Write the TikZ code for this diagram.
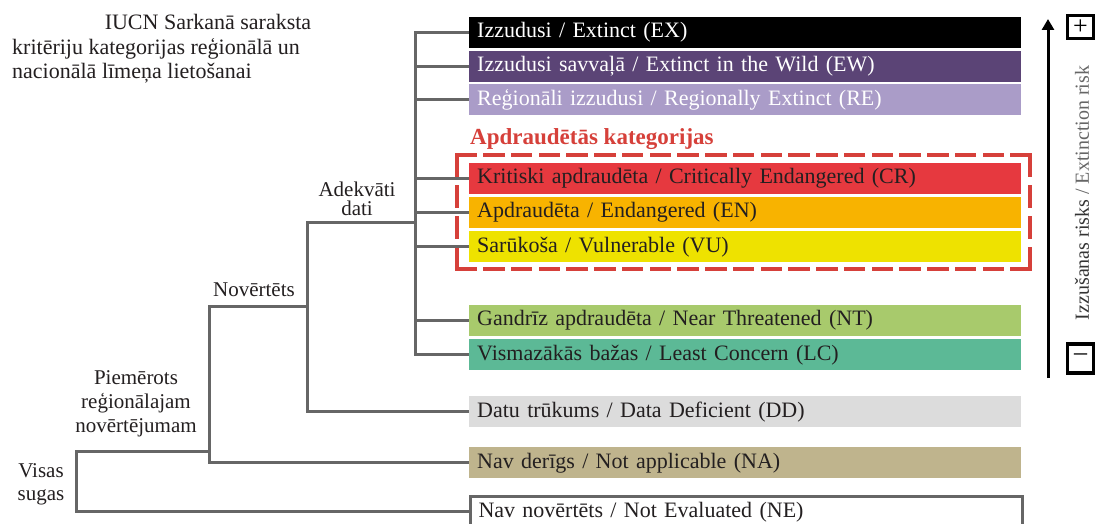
\documentclass[tikz,border=0pt]{standalone}
\usepackage{fontspec}
\setmainfont{Liberation Serif}
\usetikzlibrary{arrows.meta}
\definecolor{cEX}{HTML}{000000}
\definecolor{cEW}{HTML}{5B4476}
\definecolor{cRE}{HTML}{AA9CC8}
\definecolor{cCR}{HTML}{E6393F}
\definecolor{cEN}{HTML}{F8B300}
\definecolor{cVU}{HTML}{EEE200}
\definecolor{cNT}{HTML}{A8CA6C}
\definecolor{cLC}{HTML}{5CB996}
\definecolor{cDD}{HTML}{DCDCDC}
\definecolor{cNA}{HTML}{BFB48D}
\definecolor{cLine}{HTML}{666666}
\definecolor{cRed}{HTML}{D6403A}
\definecolor{cTxt}{HTML}{231F20}
\definecolor{cRiskA}{HTML}{333333}
\definecolor{cRiskB}{HTML}{666666}
\begin{document}
\begin{tikzpicture}[x=1pt,y=-1pt,
  cat/.style={anchor=west, minimum width=552pt, minimum height=31pt, text width=536pt,
    inner xsep=8pt, inner ysep=0pt, align=left, text height=16pt, text depth=5pt,
    font=\fontsize{22}{24}\selectfont, text=cTxt},
  wtxt/.style={text=white},
  tree/.style={draw=cLine, line width=3pt, line join=miter},
  lbl/.style={font=\fontsize{21}{24}\selectfont, text=cTxt, inner sep=0pt, align=center},
  ttl/.style={font=\fontsize{22}{24}\selectfont, text=cTxt, inner sep=0pt},
  pm/.style={draw=black, line width=3.5pt, minimum width=26pt, minimum height=23pt,
    inner sep=0pt, font=\fontsize{26}{26}\selectfont},
  dsh/.style={draw=cRed, line width=3.5pt, line cap=rect},
]
\useasboundingbox (0,0) rectangle (1096,524);
\fill[white] (0,0) rectangle (1096,524);

% title
\node[ttl, anchor=base] (t1) at (208,30) {IUCN Sarkanā saraksta};
\node[ttl, anchor=base west] (t2) at (12,55) {kritēriju kategorijas reģionālā un};
\node[ttl, anchor=base west] (t3) at (12,79) {nacionālā līmeņa lietošanai};

% category boxes
\node[cat, fill=cEX, wtxt] (ex) at (469,32.5) {Izzudusi / Extinct (EX)};
\node[cat, fill=cEW, wtxt] (ew) at (469,66.5) {Izzudusi savvaļā / Extinct in the Wild (EW)};
\node[cat, fill=cRE, wtxt] (re) at (469,100) {Reģionāli izzudusi / Regionally Extinct (RE)};
\node[cat, fill=cCR] (cr) at (469,178.5) {Kritiski apdraudēta / Critically Endangered (CR)};
\node[cat, fill=cEN] (en) at (469,212.5) {Apdraudēta / Endangered (EN)};
\node[cat, fill=cVU] (vu) at (469,246.5) {Sarūkoša / Vulnerable (VU)};
\node[cat, fill=cNT] (nt) at (469,320) {Gandrīz apdraudēta / Near Threatened (NT)};
\node[cat, fill=cLC] (lc) at (469,354.5) {Vismazākās bažas / Least Concern (LC)};
\node[cat, fill=cDD] (dd) at (469,411.5) {Datu trūkums / Data Deficient (DD)};
\node[cat, fill=cNA] (na) at (469,462.5) {Nav derīgs / Not applicable (NA)};
\node[cat, fill=white, draw=cLine, line width=3pt] (ne) at (469,511.5) {Nav novērtēts / Not Evaluated (NE)};

% threatened heading and dashed frame
\node[font=\bfseries\fontsize{23}{24}\selectfont, text=cRed, inner sep=0pt, anchor=base west] (thr) at (470,145) {Apdraudētās kategorijas};
\coordinate (dA) at (457,155);
\coordinate (dB) at (1030,269);
\draw[dsh, dash pattern=on 18pt off 9.75pt] (dA) -- (dA -| dB);
\draw[dsh, dash pattern=on 18pt off 9.75pt] (dA |- dB) -- (dB);
\draw[dsh, dash pattern=on 20pt off 11.33pt] (dA) -- (dA |- dB);
\draw[dsh, dash pattern=on 20pt off 11.33pt] (dA -| dB) -- (dB);

% tree
\coordinate (tA) at (415,223);
\coordinate (nA) at (307,223);
\coordinate (nB) at (307,306);
\coordinate (pA) at (209,306);
\coordinate (pB) at (209,451);
\coordinate (vA) at (76,451);
\draw[tree] (ex.west) -- (tA |- ex.west) -- (tA |- lc.west) -- (lc.west);
\draw[tree] (tA |- ew.west) -- (ew.west);
\draw[tree] (tA |- re.west) -- (re.west);
\draw[tree] (tA |- cr.west) -- (cr.west);
\draw[tree] (tA |- en.west) -- (en.west);
\draw[tree] (tA |- vu.west) -- (vu.west);
\draw[tree] (tA |- nt.west) -- (nt.west);
\draw[tree] (tA) -- (nA) -- (nA |- dd.west) -- (dd.west);
\draw[tree] (nB) -- (pA) -- (pA |- na.west) -- (na.west);
\draw[tree] (pB) -- (vA) -- (vA |- ne.west) -- (ne.west);

% tree labels (anchor base = baseline of the last line)
\node[lbl, font=\fontsize{21}{19}\selectfont, anchor=base] (adk) at (357,215) {Adekvāti\\dati};
\node[lbl, anchor=base] (nov) at (254,296) {Novērtēts};
\node[lbl, anchor=base] (pie) at (136,432) {Piemērots\\reģionālajam\\novērtējumam};
\node[lbl, font=\fontsize{21}{23}\selectfont, anchor=base] (vis) at (41,500) {Visas\\sugas};

% risk axis
\coordinate (arrB) at (1048,378);
\coordinate (arrT) at (1048,19);
\draw[line width=3pt, -{Triangle[length=11pt,width=12pt]}] (arrB) -- (arrT);
\node[pm] (plus) at (1080.5,27) {+};
\node[pm, minimum height=29pt] (minus) at (1080.5,358.5) {\raisebox{2pt}{–}};
\node[rotate=90, font=\fontsize{20}{20}\selectfont, inner sep=0pt] (risk) at (1082,193)
  {\textcolor{cRiskA}{Izzušanas risks} \textcolor{cRiskB}{/ Extinction risk}};
\end{tikzpicture}
\end{document}
